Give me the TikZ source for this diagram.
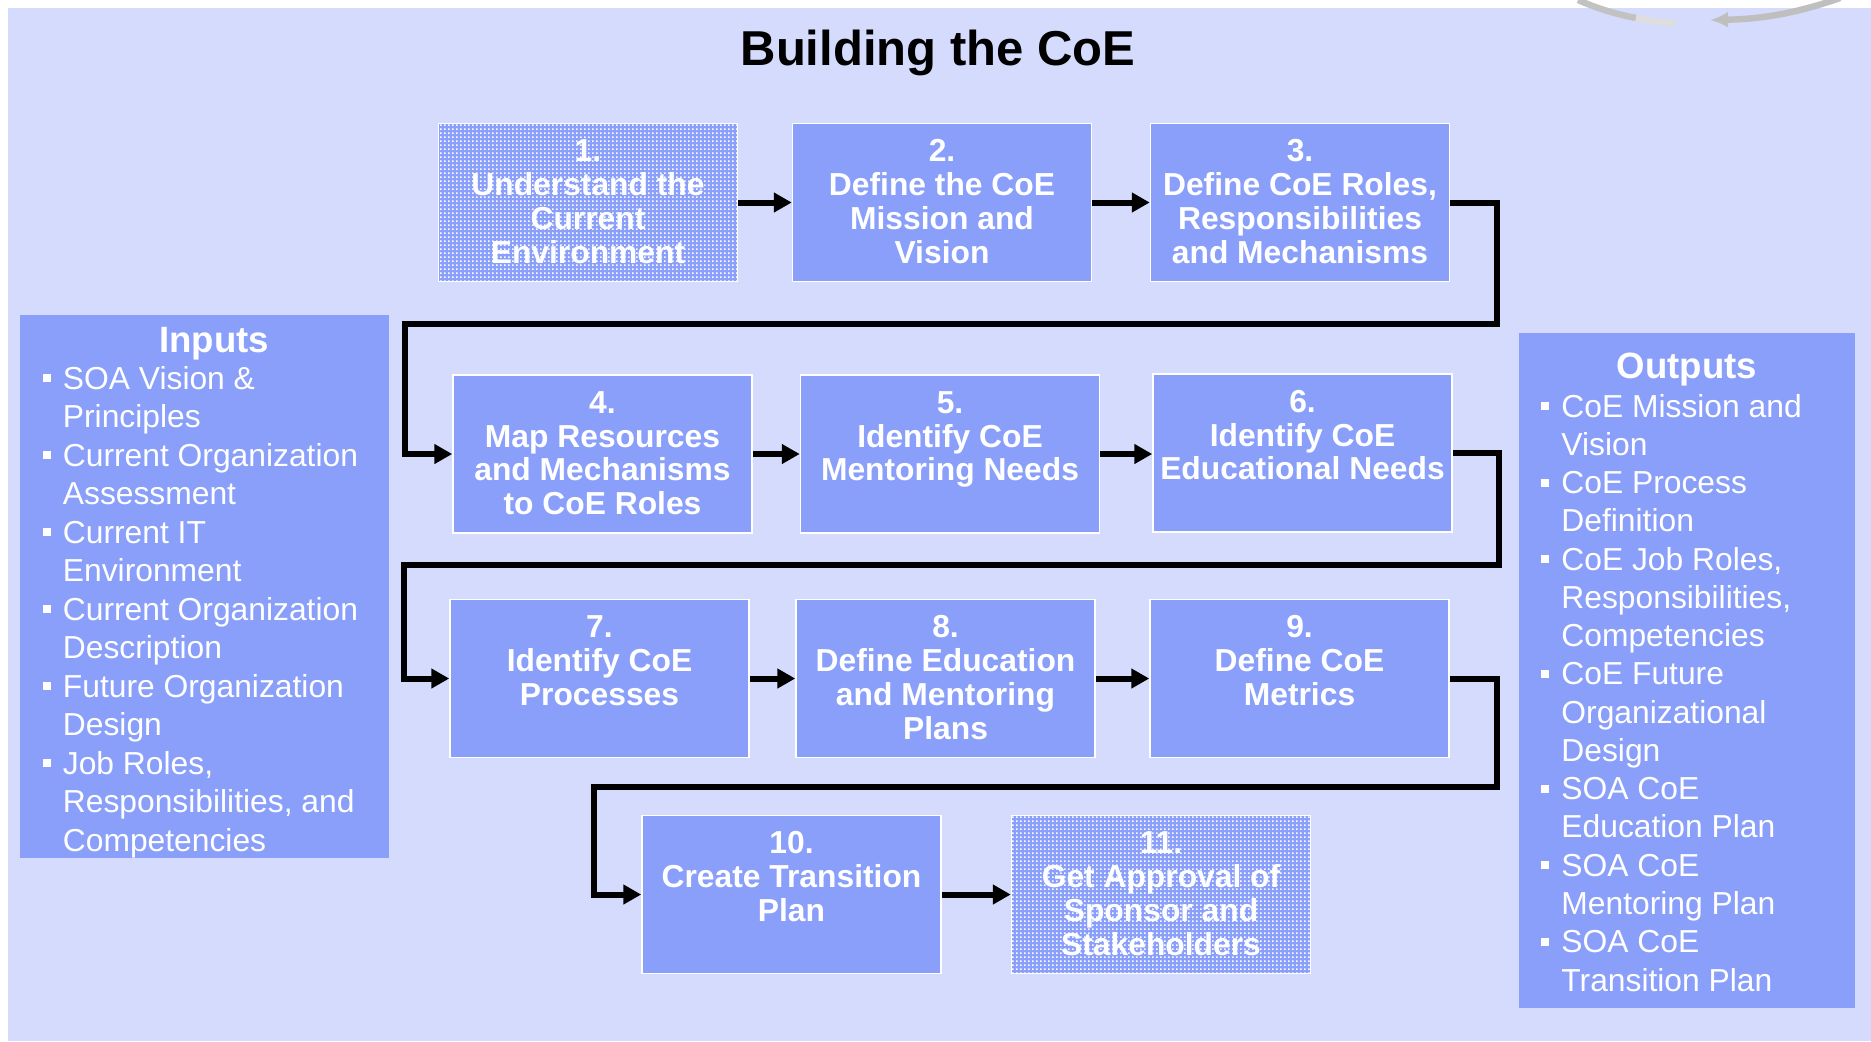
\documentclass[tikz,border=0pt]{standalone}
\usepackage{fontspec}
\setmainfont{Liberation Sans}
\usetikzlibrary{arrows.meta,patterns.meta}
\definecolor{panel}{RGB}{213,219,253}
\definecolor{boxblue}{RGB}{138,159,250}
\tikzdeclarepattern{
  name=finedots,
  type=uncolored,
  bottom left={(0pt,0pt)},
  top right={(2pt,2pt)},
  tile size={(2pt,2pt)},
  code={\pgfpathrectangle{\pgfpoint{0pt}{0pt}}{\pgfpoint{1.05pt}{1.05pt}}\pgfusepath{fill}}
}
\tikzset{
  stepbox/.style={draw=white, line width=0.75pt, fill=boxblue, minimum width=149.5pt, minimum height=79pt, inner sep=0pt},
  patbox/.style={draw=white, line width=0.75pt, preaction={fill=boxblue}, pattern=finedots, pattern color=white, minimum width=149.5pt, minimum height=79pt, inner sep=0pt},
  steptext/.style={anchor=north, inner sep=0pt, align=center, text=white, font=\bfseries\fontsize{15.9}{16.9}\selectfont},
  flow/.style={line width=3pt, line join=miter, -{Triangle[length=9pt,width=9.5pt]}},
  listtext/.style={anchor=base west, inner sep=0pt, text=white, font=\fontsize{15.9}{19}\selectfont},
  bullet/.style={fill=white, minimum size=4pt, inner sep=0pt, outer sep=0pt},
  listtitle/.style={anchor=base, inner sep=0pt, text=white, font=\bfseries\fontsize{18.3}{22}\selectfont},
  arcline/.style={line width=3.2pt},
}
\newcommand{\fl}{\rule{0pt}{12pt}}
\begin{document}
\begin{tikzpicture}[x=0.5pt,y=-0.5pt]
\useasboundingbox (0,0) rectangle (1871,1041);
% background panel
\fill[panel] (8,8) rectangle (1871,1041);
% grey cycle arrow fragment
\draw[arcline, black!24] (1578,0) .. controls (1596,8) and (1615,14) .. (1636,18);
\draw[arcline, black!13] (1636,18) .. controls (1650,21) and (1662,22.5) .. (1676,23);
\draw[arcline, black!25, -{Latex[length=9pt,width=8pt]}] (1840,-2) .. controls (1800,12) and (1765,19) .. (1710,20);
% title
\node[anchor=base, inner sep=0pt, font=\bfseries\fontsize{24.5}{28}\selectfont] (title) at (938,65) {Building the CoE};
% side boxes
\fill[boxblue] (20,315) rectangle (389,858);
\fill[boxblue] (1519,333) rectangle (1855,1008);
\node[listtitle] (intitle) at (214,352) {Inputs};
\node[listtitle] (outtitle) at (1687,378) {Outputs};
% inputs list
\node[bullet] (ib1) at (47,378) {};
\node[listtext] (in1) at (62.5,389) {SOA Vision \&};
\node[listtext] (in2) at (62.5,427.5) {Principles};
\node[bullet] (ib2) at (47,455) {};
\node[listtext] (in3) at (62.5,466) {Current Organization};
\node[listtext] (in4) at (62.5,504.5) {Assessment};
\node[bullet] (ib3) at (47,532) {};
\node[listtext] (in5) at (62.5,543) {Current IT};
\node[listtext] (in6) at (62.5,581.5) {Environment};
\node[bullet] (ib4) at (47,609) {};
\node[listtext] (in7) at (62.5,620) {Current Organization};
\node[listtext] (in8) at (62.5,658.5) {Description};
\node[bullet] (ib5) at (47,686) {};
\node[listtext] (in9) at (62.5,697) {Future Organization};
\node[listtext] (in10) at (62.5,735.5) {Design};
\node[bullet] (ib6) at (47,763) {};
\node[listtext] (in11) at (62.5,774) {Job Roles,};
\node[listtext] (in12) at (62.5,812.5) {Responsibilities, and};
\node[listtext] (in13) at (62.5,851) {Competencies};
% outputs list
\node[bullet] (ob1) at (1545,406) {};
\node[listtext] (out1) at (1561,417) {CoE Mission and};
\node[listtext] (out2) at (1561,455.3) {Vision};
\node[bullet] (ob2) at (1545,482.5) {};
\node[listtext] (out3) at (1561,493.5) {CoE Process};
\node[listtext] (out4) at (1561,531.8) {Definition};
\node[bullet] (ob3) at (1545,559) {};
\node[listtext] (out5) at (1561,570) {CoE Job Roles,};
\node[listtext] (out6) at (1561,608.3) {Responsibilities,};
\node[listtext] (out7) at (1561,646.6) {Competencies};
\node[bullet] (ob4) at (1545,673.8) {};
\node[listtext] (out8) at (1561,684.8) {CoE Future};
\node[listtext] (out9) at (1561,723.1) {Organizational};
\node[listtext] (out10) at (1561,761.4) {Design};
\node[bullet] (ob5) at (1545,788.6) {};
\node[listtext] (out11) at (1561,799.6) {SOA CoE};
\node[listtext] (out12) at (1561,837.9) {Education Plan};
\node[bullet] (ob6) at (1545,865.1) {};
\node[listtext] (out13) at (1561,876.1) {SOA CoE};
\node[listtext] (out14) at (1561,914.4) {Mentoring Plan};
\node[bullet] (ob7) at (1545,941.7) {};
\node[listtext] (out15) at (1561,952.7) {SOA CoE};
\node[listtext] (out16) at (1561,991) {Transition Plan};
% step boxes
\node[patbox]  (b1)  at (588,202.5) {};
\node[stepbox] (b2)  at (942,202.5) {};
\node[stepbox] (b3)  at (1300,202.5) {};
\node[stepbox] (b4)  at (602.5,454) {};
\node[stepbox] (b5)  at (950,454) {};
\node[stepbox] (b6)  at (1302.5,453) {};
\node[stepbox] (b7)  at (599.5,678.5) {};
\node[stepbox] (b8)  at (945.5,678.5) {};
\node[stepbox] (b9)  at (1299.5,678.5) {};
\node[stepbox] (b10) at (791.5,894.5) {};
\node[patbox]  (b11) at (1161,894.5) {};
% step texts
\node[steptext] (t1)  at ([yshift=-7.3pt]b1.north)  {\fl 1.\\Understand the\\Current\\Environment};
\node[steptext] (t2)  at ([yshift=-7.3pt]b2.north)  {\fl 2.\\Define the CoE\\Mission and\\Vision};
\node[steptext] (t3)  at ([yshift=-7.3pt]b3.north)  {\fl 3.\\Define CoE Roles,\\Responsibilities\\and Mechanisms};
\node[steptext] (t4)  at ([yshift=-7.3pt]b4.north)  {\fl 4.\\Map Resources\\and Mechanisms\\to CoE Roles};
\node[steptext] (t5)  at ([yshift=-7.3pt]b5.north)  {\fl 5.\\Identify CoE\\Mentoring Needs};
\node[steptext] (t6)  at ([yshift=-7.3pt]b6.north)  {\fl 6.\\Identify CoE\\Educational Needs};
\node[steptext] (t7)  at ([yshift=-7.3pt]b7.north)  {\fl 7.\\Identify CoE\\Processes};
\node[steptext] (t8)  at ([yshift=-7.3pt]b8.north)  {\fl 8.\\Define Education\\and Mentoring\\Plans};
\node[steptext] (t9)  at ([yshift=-7.3pt]b9.north)  {\fl 9.\\Define CoE\\Metrics};
\node[steptext] (t10) at ([yshift=-7.3pt]b10.north) {\fl 10.\\Create Transition\\Plan};
\node[steptext] (t11) at ([yshift=-7.3pt]b11.north) {\fl 11.\\Get Approval of\\Sponsor and\\Stakeholders};
% corner coordinates
\coordinate (k1) at (1497,324);
\coordinate (k2) at (405,324);
\coordinate (k3) at (1499,565);
\coordinate (k4) at (404,565);
\coordinate (k5) at (1497,787);
\coordinate (k6) at (594,787);
% connectors
\draw[flow] (b1.east) -- (b2.west);
\draw[flow] (b2.east) -- (b3.west);
\draw[flow] (b3.east) -| (k1) -- (k2) |- (b4.west);
\draw[flow] (b4.east) -- (b5.west);
\draw[flow] (b5.east) -- (b5.east -| b6.west);
\draw[flow] (b6.east) -| (k3) -- (k4) |- (b7.west);
\draw[flow] (b7.east) -- (b8.west);
\draw[flow] (b8.east) -- (b9.west);
\draw[flow] (b9.east) -| (k5) -- (k6) |- (b10.west);
\draw[flow] (b10.east) -- (b11.west);
\end{tikzpicture}
\end{document}
